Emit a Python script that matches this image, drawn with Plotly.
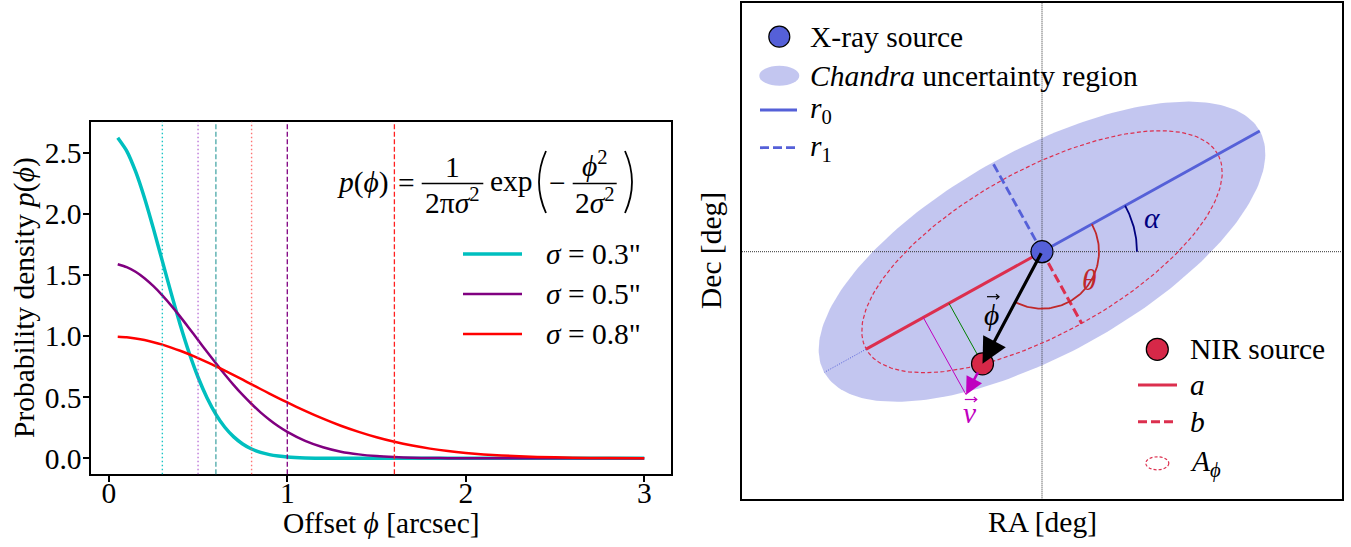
import numpy as np
import plotly.graph_objects as go

# ---------------- Left panel data ----------------
phi = [0.05, 0.10, 0.15, 0.20, 0.25, 0.30, 0.35, 0.40, 0.45, 0.50, 0.55, 0.60, 0.65, 0.70,
       0.75, 0.80, 0.85, 0.90, 0.95, 1.00, 1.1, 1.2, 1.3, 1.4, 1.5, 1.6, 1.7, 1.8, 1.9, 2.0,
       2.2, 2.4, 2.6, 2.8, 3.0]
p_s03 = [2.623, 2.516, 2.347, 2.130, 1.879, 1.613, 1.347, 1.093, 0.863, 0.663, 0.496, 0.360,
         0.254, 0.175, 0.117, 0.076, 0.048, 0.030, 0.018, 0.010, 0.003, 0.001, 0.000, 0.0,
         0.0, 0.0, 0.0, 0.0, 0.0, 0.0, 0.0, 0.0, 0.0, 0.0, 0.0]
p_s05 = [1.588, 1.564, 1.526, 1.473, 1.408, 1.333, 1.249, 1.159, 1.064, 0.968, 0.871, 0.777,
         0.686, 0.599, 0.518, 0.444, 0.376, 0.316, 0.262, 0.216, 0.142, 0.090, 0.054, 0.032,
         0.018, 0.010, 0.005, 0.002, 0.001, 0.001, 0.0, 0.0, 0.0, 0.0, 0.0]
p_s08 = [0.995, 0.990, 0.980, 0.967, 0.950, 0.930, 0.906, 0.880, 0.851, 0.820, 0.787, 0.753,
         0.717, 0.680, 0.643, 0.605, 0.567, 0.530, 0.493, 0.457, 0.388, 0.324, 0.266, 0.216,
         0.172, 0.135, 0.104, 0.079, 0.059, 0.044, 0.023, 0.011, 0.005, 0.002, 0.001]
sigmas = [0.3, 0.5, 0.8]
sigma_labels = ['<i>σ</i> = 0.3"', '<i>σ</i> = 0.5"', '<i>σ</i> = 0.8"']
x_ticks = [0, 1, 2, 3]
y_ticks = [0.0, 0.5, 1.0, 1.5, 2.0, 2.5]

# ---------------- Right panel geometry (diagram units) ----------------
alpha_deg = 29.0
r0 = 2.49
r1 = 1.02
a_len = 2.01
b_len = 0.82
nir_xy = (-0.595, -1.121)
v_len = 0.35
alpha_arc_r = 0.95
theta_arc_r = 0.57

W, H = 1351, 547
FONT = "Liberation Serif, Times New Roman, DejaVu Serif, serif"
FS = 29.5


def px(x):
    return x / W


def py(y):
    return 1 - y / H


C_CYAN = "#00bfbf"
C_PURPLE = "#800080"
C_RED = "#ff0000"
C_BLUE = "#5560d8"
C_CRIM = "#dc2f4e"
C_NIR = "#d62848"

fig = go.Figure()

# ---- left curves ----
for y, c, w in [(p_s03, C_CYAN, 3.5), (p_s05, C_PURPLE, 2.5), (p_s08, C_RED, 2.5)]:
    fig.add_trace(go.Scatter(x=phi, y=y, mode="lines", line=dict(color=c, width=w, shape="spline", smoothing=0.6),
                             showlegend=False, xaxis="x", yaxis="y", hoverinfo="skip"))

vcols_dot = ["rgba(0,191,191,0.9)", "rgba(160,60,200,0.7)", "rgba(255,80,80,0.8)"]
vcols_dash = ["rgba(40,150,150,0.85)", "#800080", "#ff2020"]
shapes = []
for s, cd, cs in zip(sigmas, vcols_dot, vcols_dash):
    shapes.append(dict(type="line", xref="x", yref="y domain", x0=s, x1=s, y0=0, y1=1,
                       line=dict(color=cd, width=1.4, dash="1.5px,2.5px")))
    shapes.append(dict(type="line", xref="x", yref="y domain", x0=2 * s, x1=2 * s, y0=0, y1=1,
                       line=dict(color=cs, width=1.3, dash="5px,2.5px")))

# ---- right panel geometry ----
al = np.deg2rad(alpha_deg)
u = np.array([np.cos(al), np.sin(al)])
wv = np.array([-np.sin(al), np.cos(al)])
t = np.linspace(0, 2 * np.pi, 240)
ell_big = np.outer(r0 * np.cos(t), u) + np.outer(r1 * np.sin(t), wv)
ell_a = np.outer(a_len * np.cos(t), u) + np.outer(b_len * np.sin(t), wv)
nir = np.array(nir_xy)
phin = nir / np.linalg.norm(nir)
vtip = nir + v_len * phin
foot_n = np.dot(nir, u) * u
foot_v = np.dot(vtip, u) * u
phi_ang = np.arctan2(nir[1], nir[0])


def line(x, y, color, width, dash="solid"):
    fig.add_trace(go.Scatter(x=x, y=y, mode="lines", line=dict(color=color, width=width, dash=dash),
                             showlegend=False, xaxis="x2", yaxis="y2", hoverinfo="skip"))


fig.add_trace(go.Scatter(x=ell_big[:, 0], y=ell_big[:, 1], mode="lines", fill="toself",
                         fillcolor="rgba(88,98,214,0.36)", line=dict(width=0),
                         showlegend=False, xaxis="x2", yaxis="y2", hoverinfo="skip"))
# crosshair
line([-3.1, 3.1], [0, 0], "#333333", 1, "1px,1px")
line([0, 0], [-2.6, 2.6], "#333333", 1, "1px,1px")
# A_phi ellipse
line(ell_a[:, 0], ell_a[:, 1], C_CRIM, 1.2, "4px,2.5px")
# r0, r1
line([0, r0 * u[0]], [0, r0 * u[1]], C_BLUE, 2.8)
line([0, r1 * wv[0]], [0, r1 * wv[1]], C_BLUE, 2.8, "9px,4px")
line([-a_len * u[0], -r0 * u[0]], [-a_len * u[1], -r0 * u[1]], C_BLUE, 1, "1px,1.5px")
# a, b
line([0, -a_len * u[0]], [0, -a_len * u[1]], C_CRIM, 3)
line([0, -b_len * wv[0]], [0, -b_len * wv[1]], C_CRIM, 3, "9px,4px")
# green & magenta projections
line([foot_n[0], nir[0]], [foot_n[1], nir[1]], "#008000", 1)
line([foot_v[0], vtip[0]], [foot_v[1], vtip[1]], "#bf00bf", 1)
# arcs
ta = np.linspace(0, al, 40)
line(alpha_arc_r * np.cos(ta), alpha_arc_r * np.sin(ta), "#000080", 1.8)
tt = np.linspace(al, phi_ang, 80)
line(theta_arc_r * np.cos(tt), theta_arc_r * np.sin(tt), "#c0282a", 1.8)
# vector accents above the symbols (small arrows)
for (xa, ya), col in [((-0.49, -0.45), "black"), ((-0.712, -1.478), "#bf00bf")]:
    line([xa - 0.06, xa + 0.06, None, xa + 0.03, xa + 0.06, xa + 0.03],
         [ya, ya, None, ya + 0.025, ya, ya - 0.025], col, 1.2)
# markers
fig.add_trace(go.Scatter(x=[0], y=[0], mode="markers",
                         marker=dict(size=22, color=C_BLUE, line=dict(color="black", width=1.2)),
                         showlegend=False, xaxis="x2", yaxis="y2", hoverinfo="skip"))
fig.add_trace(go.Scatter(x=[nir[0]], y=[nir[1]], mode="markers",
                         marker=dict(size=22, color=C_NIR, line=dict(color="black", width=1.2)),
                         showlegend=False, xaxis="x2", yaxis="y2", hoverinfo="skip"))

ann = []
# arrows
ann.append(dict(x=nir[0], y=nir[1], ax=0, ay=0, xref="x2", yref="y2", axref="x2", ayref="y2",
                text="", showarrow=True, arrowhead=2, arrowsize=1.6, arrowwidth=3.2, arrowcolor="black",
                standoff=0))
ann.append(dict(x=vtip[0], y=vtip[1], ax=nir[0], ay=nir[1], xref="x2", yref="y2", axref="x2", ayref="y2",
                text="", showarrow=True, arrowhead=2, arrowsize=1.4, arrowwidth=2.5, arrowcolor="#bf00bf",
                standoff=0, startstandoff=8))


def txt(x, y, s, size=FS, color="black", xanchor="center", xref="paper", yref="paper", angle=0):
    ann.append(dict(x=x, y=y, xref=xref, yref=yref, text=s, showarrow=False, xanchor=xanchor,
                    yanchor="middle", textangle=angle, font=dict(family=FONT, size=size, color=color)))


# diagram labels
txt(1.095, 0.334, "<i>α</i>", color="#000080", xref="x2", yref="y2")
txt(0.478, -0.283, "<i>θ</i>", color="#c0282a", xref="x2", yref="y2")
txt(-0.505, -0.63, "<i>ϕ</i>", xref="x2", yref="y2")
txt(-0.722, -1.61, "<i>v</i>", color="#bf00bf", xref="x2", yref="y2")

# axis titles
txt(px(381), py(523), "Offset <i>ϕ</i> [arcsec]")
txt(px(25), py(298), "Probability density <i>p</i>(<i>ϕ</i>)", angle=-90)
txt(px(1042), py(522), "RA [deg]")
txt(px(711), py(251), "Dec [deg]", angle=-90)

# formula
txt(px(363), py(183), "<i>p</i>(<i>ϕ</i>)")
txt(px(406), py(183), "=")
txt(px(452.5), py(167), "1")
txt(px(452.5), py(201), "2π<i>σ</i><sup>2</sup>")
txt(px(511), py(181), "exp")
txt(px(557), py(183), "−")
txt(px(595), py(164), "<i>ϕ</i><sup>2</sup>")
txt(px(595), py(201), "2<i>σ</i><sup>2</sup>")
for x0, x1 in [(421.7, 483.3), (572.7, 616.7)]:
    shapes.append(dict(type="line", xref="paper", yref="paper", x0=px(x0), x1=px(x1), y0=py(183.5),
                       y1=py(183.5), line=dict(color="black", width=1.5)))
# large parentheses drawn as thin curves
for xe, xc in [(546, 532), (625, 639)]:
    shapes.append(dict(type="path", xref="paper", yref="paper",
                       path=f"M {px(xe)},{py(151)} Q {px(xc)},{py(182)} {px(xe)},{py(213)}",
                       line=dict(color="black", width=1.8)))

# left legend
for yy, c, w, lab in [(254, C_CYAN, 3.5, sigma_labels[0]), (294, C_PURPLE, 2.5, sigma_labels[1]),
                      (334, C_RED, 2.5, sigma_labels[2])]:
    shapes.append(dict(type="line", xref="paper", yref="paper", x0=px(463), x1=px(522), y0=py(yy), y1=py(yy),
                       line=dict(color=c, width=w)))
    txt(px(544), py(yy), lab, xanchor="left")

# right legends
def circ(cx, cy, rx, ry, fill, lc, lw, dash="solid"):
    shapes.append(dict(type="circle", xref="paper", yref="paper", x0=px(cx - rx), x1=px(cx + rx),
                       y0=py(cy + ry), y1=py(cy - ry), fillcolor=fill, line=dict(color=lc, width=lw, dash=dash)))


circ(779.3, 36.7, 10.5, 10.5, C_BLUE, "black", 1.2)
txt(px(808), py(36.7), "X-ray source", xanchor="left")
circ(779.3, 75.7, 20, 10, "rgba(88,98,214,0.36)", "rgba(0,0,0,0)", 0)
txt(px(808), py(75.7), "<i>Chandra</i> uncertainty region", xanchor="left")
shapes.append(dict(type="line", xref="paper", yref="paper", x0=px(760), x1=px(797), y0=py(110), y1=py(110),
                   line=dict(color=C_BLUE, width=2.8)))
txt(px(808), py(110), "<i>r</i><sub>0</sub>", xanchor="left")
shapes.append(dict(type="line", xref="paper", yref="paper", x0=px(760), x1=px(797), y0=py(147.7), y1=py(147.7),
                   line=dict(color=C_BLUE, width=2.8, dash="9px,4px")))
txt(px(808), py(147.7), "<i>r</i><sub>1</sub>", xanchor="left")

circ(1157.3, 349.3, 11, 11, C_NIR, "black", 1.2)
txt(px(1188), py(349.3), "NIR source", xanchor="left")
shapes.append(dict(type="line", xref="paper", yref="paper", x0=px(1138), x1=px(1177), y0=py(385), y1=py(385),
                   line=dict(color=C_CRIM, width=3)))
txt(px(1188), py(385), "<i>a</i>", xanchor="left")
shapes.append(dict(type="line", xref="paper", yref="paper", x0=px(1138), x1=px(1177), y0=py(421.7), y1=py(421.7),
                   line=dict(color=C_CRIM, width=3, dash="9px,4px")))
txt(px(1188), py(421.7), "<i>b</i>", xanchor="left")
circ(1157.3, 463.3, 11.5, 6.5, "rgba(0,0,0,0)", C_CRIM, 1.2, "3px,2px")
txt(px(1188), py(463.3), "<i>A</i><sub><i>ϕ</i></sub>", xanchor="left")

axis_common = dict(showline=True, mirror=True, linewidth=2, linecolor="black", showgrid=False, zeroline=False)
fig.update_layout(
    width=W, height=H, margin=dict(l=0, r=0, t=0, b=0),
    plot_bgcolor="white", paper_bgcolor="white",
    font=dict(family=FONT, size=FS, color="black"),
    xaxis=dict(domain=[91.4 / W, 670.6 / W], range=[-0.0975, 3.1475], tickvals=x_ticks,
               ticks="outside", ticklen=6, tickwidth=1.5, tickcolor="black", ticklabelstandoff=-15,
               tickfont=dict(family=FONT, size=FS), **axis_common),
    yaxis=dict(domain=[1 - 474.3 / H, 1 - 121.7 / H], range=[-0.131, 2.754], tickvals=y_ticks,
               tickformat=".1f", ticks="outside", ticklen=6, tickwidth=1.5, tickcolor="black",
               ticklabelstandoff=-4,
               tickfont=dict(family=FONT, size=FS), **axis_common),
    xaxis2=dict(domain=[742 / W, 1342 / W], range=[-3.0, 3.0], showticklabels=False, ticks="",
                anchor="y2", **axis_common),
    yaxis2=dict(domain=[1 - 499 / H, 1 - 3 / H], range=[-2.473, 2.487], showticklabels=False, ticks="",
                anchor="x2", **axis_common),
    shapes=shapes, annotations=ann, showlegend=False,
)

fig.write_html("out.html")
